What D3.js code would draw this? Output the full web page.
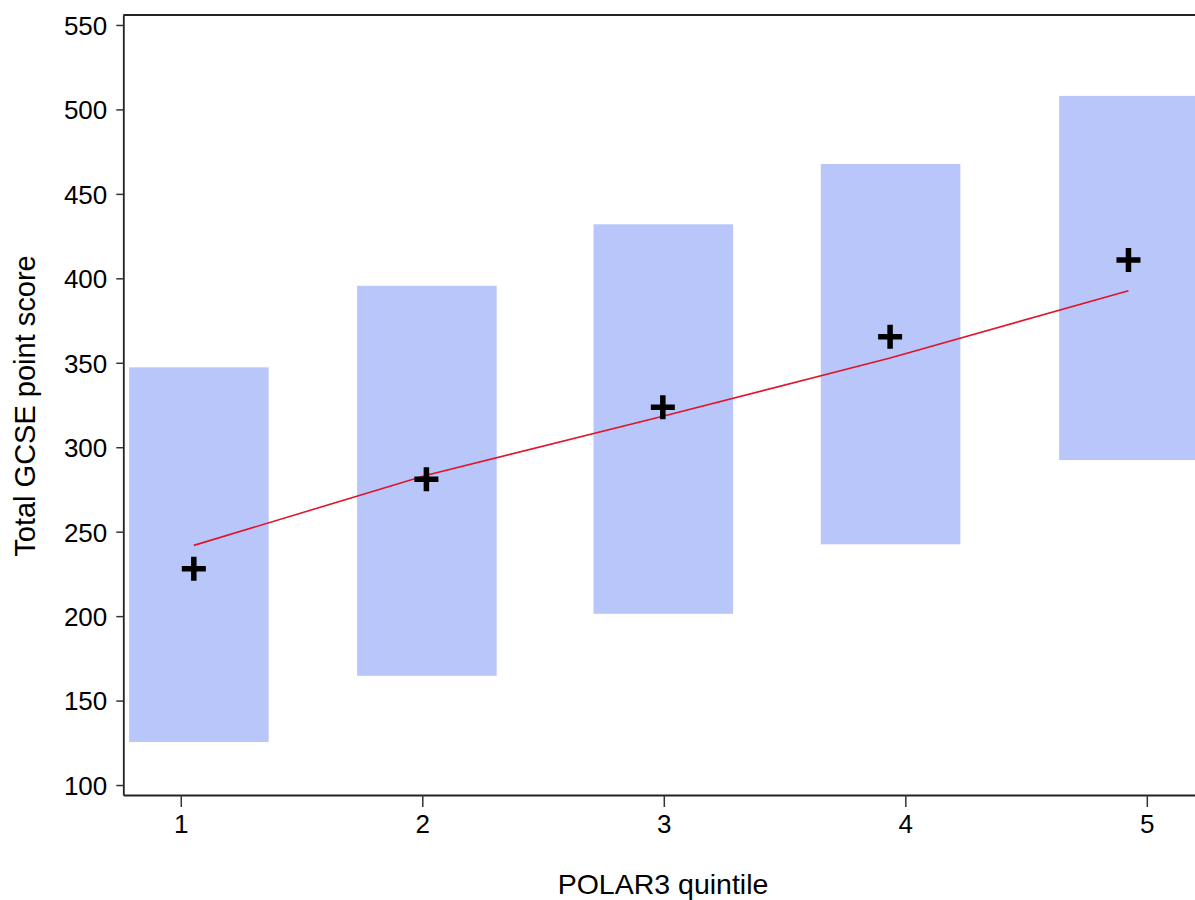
<!DOCTYPE html>
<html>
<head>
<meta charset="utf-8">
<script src="https://cdn.jsdelivr.net/npm/d3@7"></script>
<style>
  html, body { margin: 0; padding: 0; background: #ffffff; }
  svg { display: block; }
  text { font-family: "Liberation Sans", Arial, sans-serif; fill: #000; }
</style>
</head>
<body>
<script>
// ---- data ----
const quintiles   = [1, 2, 3, 4, 5];
const yTicks      = [100, 150, 200, 250, 300, 350, 400, 450, 500, 550];
const boxCenter   = [1.075, 2.019, 2.998, 3.939, 4.926];
const boxLow      = [125.5, 164.7, 201.4, 242.5, 292.4];
const boxHigh     = [347.3, 395.6, 432.0, 467.7, 508.0];
const meanX       = [1.054, 2.017, 2.996, 3.937, 4.924];
const meanScore   = [228.1, 281.0, 323.6, 365.4, 410.9];
const fittedScore = [241.9, 283.4, 318.3, 352.8, 392.7];
const xTitle = "POLAR3 quintile";
const yTitle = "Total GCSE point score";

// ---- layout ----
const W = 1195, H = 900;
const svg = d3.select("body").append("svg").attr("width", W).attr("height", H);

const x = d3.scaleLinear().domain([0.762, 5.238]).range([123.3, 1204.3]);
const y = d3.scaleLinear().domain([94.1, 555.9]).range([795, 15]);
const boxWidth = 0.578;

// boxes
svg.append("g").selectAll("rect")
  .data(quintiles.map((q, i) => ({c: boxCenter[i], lo: boxLow[i], hi: boxHigh[i]})))
  .join("rect")
  .attr("x", d => x(d.c - boxWidth / 2))
  .attr("width", d => x(d.c + boxWidth / 2) - x(d.c - boxWidth / 2))
  .attr("y", d => y(d.hi))
  .attr("height", d => y(d.lo) - y(d.hi))
  .attr("fill", "#b9c6f9");

// fitted line
const pts = meanX.map((mx, i) => [mx, fittedScore[i]]);
svg.append("path")
  .attr("d", d3.line().x(d => x(d[0])).y(d => y(d[1]))(pts))
  .attr("fill", "none")
  .attr("stroke", "#e0142a")
  .attr("stroke-width", 1.6);

// mean markers (crosses)
svg.append("g").selectAll("path")
  .data(meanX.map((mx, i) => [mx, meanScore[i]]))
  .join("path")
  .attr("transform", d => `translate(${x(d[0])},${y(d[1])})`)
  .attr("d", "M-12,0H12M0,-12V12")
  .attr("stroke", "#000")
  .attr("stroke-width", 5.5)
  .attr("fill", "none");

// axes
const yAxis = d3.axisLeft(y).tickValues(yTicks).tickSize(7).tickPadding(9).tickSizeOuter(0);
const gy = svg.append("g").attr("transform", `translate(${x(0.762)},0)`).call(yAxis);
gy.selectAll("text").style("font-size", "26px").attr("dy", "0.36em");

const xAxis = d3.axisBottom(x).tickValues(quintiles).tickFormat(d3.format("d")).tickSize(12).tickPadding(8).tickSizeOuter(0);
const gx = svg.append("g").attr("transform", `translate(0,${y(94.1)})`).call(xAxis);
gx.selectAll("text").style("font-size", "26px");

[gx, gy].forEach(g => {
  g.select(".domain").attr("stroke", "#222").attr("stroke-width", 1.8);
  g.selectAll(".tick line").attr("stroke", "#333").attr("stroke-width", 1.5);
});

// top / right frame lines
svg.append("line")
  .attr("x1", x(0.762)).attr("x2", x(5.238))
  .attr("y1", y(555.9)).attr("y2", y(555.9))
  .attr("stroke", "#222").attr("stroke-width", 1.8);
svg.append("line")
  .attr("x1", x(5.238)).attr("x2", x(5.238))
  .attr("y1", y(555.9)).attr("y2", y(94.1))
  .attr("stroke", "#222").attr("stroke-width", 1.8);

// titles
svg.append("text")
  .attr("x", 663).attr("y", 894)
  .attr("text-anchor", "middle")
  .style("font-size", "28.5px")
  .text(xTitle);

svg.append("text")
  .attr("transform", "translate(35,406) rotate(-90)")
  .attr("text-anchor", "middle")
  .style("font-size", "29px")
  .text(yTitle);
</script>
</body>
</html>
